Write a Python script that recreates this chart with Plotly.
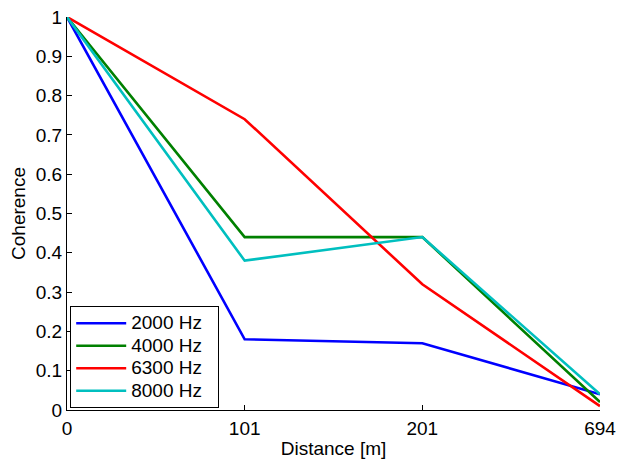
import plotly.graph_objects as go

distances = ["0", "101", "201", "694"]
coh_2000 = [1.0, 0.18, 0.17, 0.04]
coh_4000 = [1.0, 0.44, 0.44, 0.02]
coh_6300 = [1.0, 0.74, 0.32, 0.01]
coh_8000 = [1.0, 0.38, 0.44, 0.04]
labels = ["2000 Hz", "4000 Hz", "6300 Hz", "8000 Hz"]
colors = ["#0000FF", "#008000", "#FF0000", "#00BFBF"]
values = [coh_2000, coh_4000, coh_6300, coh_8000]

fig = go.Figure()
for name, vals, col in zip(labels, values, colors):
    fig.add_trace(go.Scatter(x=distances, y=vals, mode="lines",
                             name=f'<span style="font-size:19px">{name}&nbsp;&nbsp;</span>',
                             line=dict(color=col, width=2.6)))

font = "Liberation Sans, Arial, sans-serif"
fig.update_layout(
    width=627, height=459,
    margin=dict(l=67, r=27, t=17, b=49),
    paper_bgcolor="white", plot_bgcolor="white",
    font=dict(family=font, size=19, color="black"),
    showlegend=True,
    legend=dict(x=0.006, y=0.005, xanchor="left", yanchor="bottom",
                bordercolor="black", borderwidth=1, bgcolor="white",
                font=dict(size=15), tracegroupgap=0, itemwidth=50),
    xaxis=dict(type="category", range=[0, 3], showline=True, linecolor="black",
               linewidth=1, ticks="inside", ticklen=5, tickcolor="black",
               showgrid=False, zeroline=False, ticklabelstandoff=1,
               automargin=False,
               title=dict(text="Distance [m]", font=dict(size=19), standoff=4)),
    yaxis=dict(range=[0, 1], dtick=0.1, showline=True, linecolor="black",
               linewidth=1, ticks="inside", ticklen=5, tickcolor="black",
               showgrid=False, zeroline=False, automargin=False,
               title=dict(text="Coherence", font=dict(size=19), standoff=5)),
)
fig.write_html("out.html")
